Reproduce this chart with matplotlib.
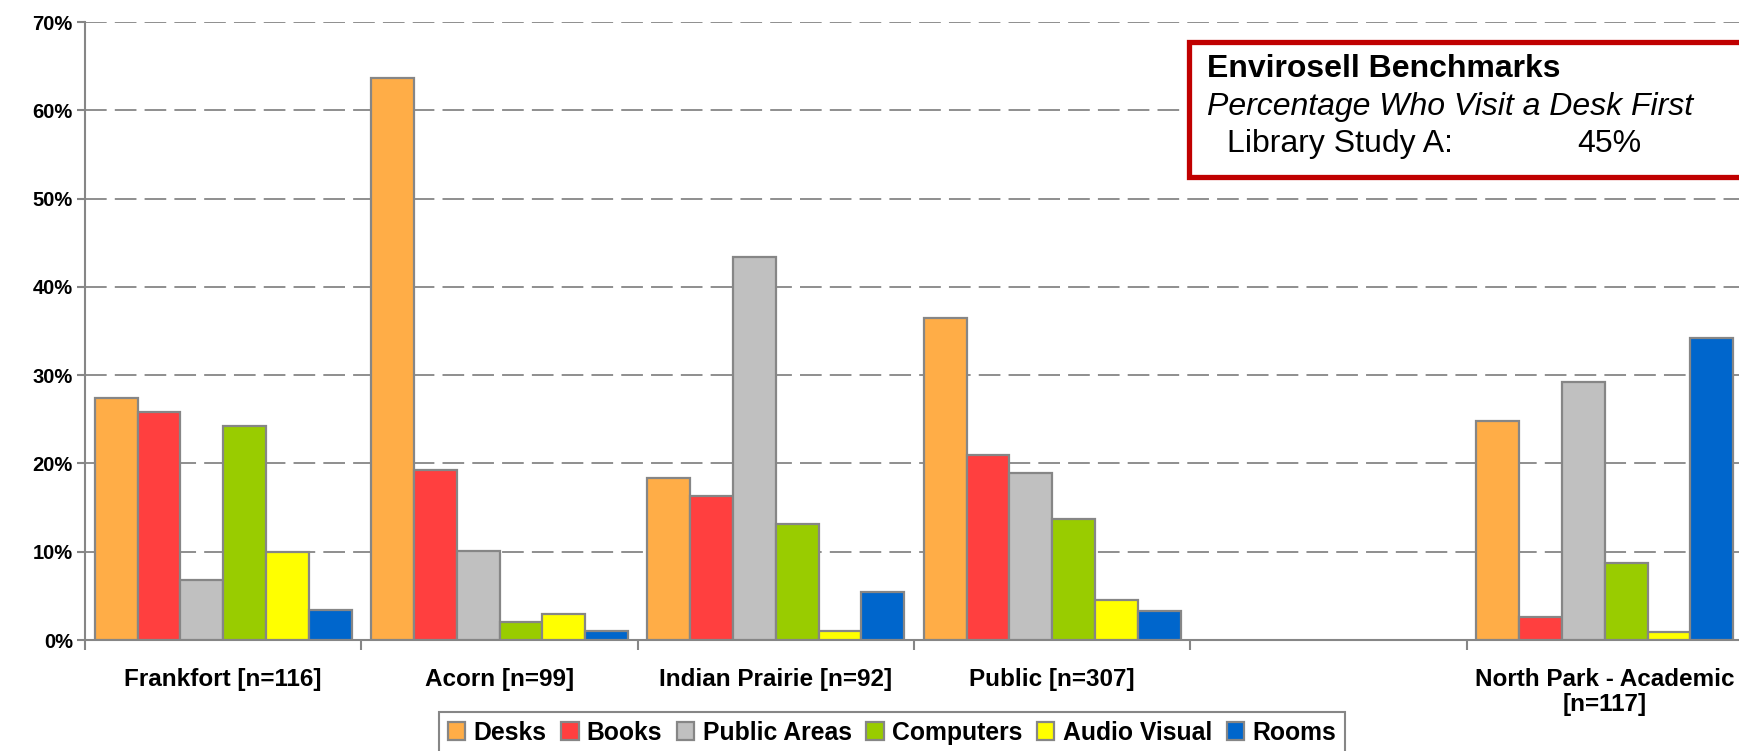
import numpy as np
import matplotlib
matplotlib.use("Agg")
import matplotlib.pyplot as plt
from matplotlib.patches import Rectangle
from matplotlib.ticker import FixedLocator, PercentFormatter

plt.rcParams["font.family"] = ["Liberation Sans", "DejaVu Sans"]

# ── data ─────────────────────────────────────────────────────────────────────
groups = ["Frankfort [n=116]", "Acorn [n=99]", "Indian Prairie [n=92]",
          "Public [n=307]", "", "North Park - Academic\n[n=117]"]
series = ["Desks", "Books", "Public Areas", "Computers", "Audio Visual", "Rooms"]
colors = ["#FFAD47", "#FF3F3F", "#C0C0C0", "#99CC00", "#FFFF00", "#0066CC"]

desks        = [27.4, 63.7, 18.4, 36.5, np.nan, 24.8]
books        = [25.8, 19.2, 16.3, 21.0, np.nan, 2.6]
public_areas = [6.8, 10.1, 43.4, 18.9, np.nan, 29.2]
computers    = [24.2, 2.0, 13.1, 13.7, np.nan, 8.7]
audio_visual = [10.0, 3.0, 1.0, 4.5, np.nan, 0.9]
rooms        = [3.4, 1.0, 5.4, 3.3, np.nan, 34.2]
values = [desks, books, public_areas, computers, audio_visual, rooms]

benchmark_label = "Library Study A:"
benchmark_value = "45%"

W, H = 1739, 751
GREY = "#868686"

fig = plt.figure(figsize=(W / 100, H / 100), dpi=100)
ax = fig.add_axes([85 / W, (H - 640) / H, 1658 / W, 618 / H])

x = np.arange(len(groups))
bw = 0.155
handles = []
for i, (name, vals, col) in enumerate(zip(series, values, colors)):
    b = ax.bar(x + (i - 2.5) * bw, vals, bw, color=col, edgecolor=GREY,
               linewidth=1.6, label=name, zorder=3)
    handles.append(b)

ax.set_xlim(-0.5, len(groups) - 0.5)
ax.set_ylim(0, 70)
ax.yaxis.set_major_locator(FixedLocator(np.arange(0, 71, 10)))
ax.yaxis.set_major_formatter(PercentFormatter(decimals=0))
for lab in ax.get_yticklabels():
    lab.set_fontweight("bold")
    lab.set_fontsize(14.5)
ax.tick_params(axis="y", length=5.8, width=1.5, color=GREY, pad=3)

# group separators as major ticks, labels on minor ticks at centres
ax.set_xticks(np.arange(-0.5, len(groups), 1.0))
ax.set_xticklabels([])
ax.set_xticks(x, minor=True)
ax.set_xticklabels(groups, minor=True, fontsize=17.5, fontweight="bold",
                   linespacing=1.15)
ax.tick_params(axis="x", which="major", length=7.2, width=1.5, color=GREY)
ax.tick_params(axis="x", which="minor", length=0, pad=20)

ax.yaxis.grid(True, color=GREY, linewidth=1.3, linestyle=(0, (12, 4.5)))
ax.set_axisbelow(True)
for s in ("top", "right"):
    ax.spines[s].set_visible(False)
for s in ("left", "bottom"):
    ax.spines[s].set_color(GREY)
    ax.spines[s].set_linewidth(1.5)

leg = fig.legend(handles=handles, loc="upper center",
                 bbox_to_anchor=(892 / W, 1 - 712 / H), ncol=6,
                 prop={"weight": "bold", "size": 17.8},
                 handlelength=0.7, handleheight=0.7, handletextpad=0.33,
                 columnspacing=0.6, borderpad=0.35, borderaxespad=0,
                 fancybox=False, framealpha=1)
leg.get_frame().set_edgecolor(GREY)
leg.get_frame().set_linewidth(1.5)

# benchmark box
box = Rectangle((1189 / W, 1 - 177 / H), 0.4, 135 / H, transform=fig.transFigure,
                facecolor="white", edgecolor="#C00000", linewidth=3.8,
                clip_on=False, zorder=5)
fig.add_artist(box)
fig.text(1207 / W, 1 - 69 / H, "Envirosell Benchmarks", fontsize=23,
         fontweight="bold", va="center", ha="left", zorder=6)
fig.text(1207 / W, 1 - 107 / H, "Percentage Who Visit a Desk First",
         fontsize=23, fontstyle="italic", va="center", ha="left", zorder=6)
fig.text(1227 / W, 1 - 144 / H, benchmark_label, fontsize=23,
         va="center", ha="left", zorder=6)
fig.text(1577 / W, 1 - 144 / H, benchmark_value, fontsize=23,
         va="center", ha="left", zorder=6)

fig.savefig("out.png", dpi=100)
